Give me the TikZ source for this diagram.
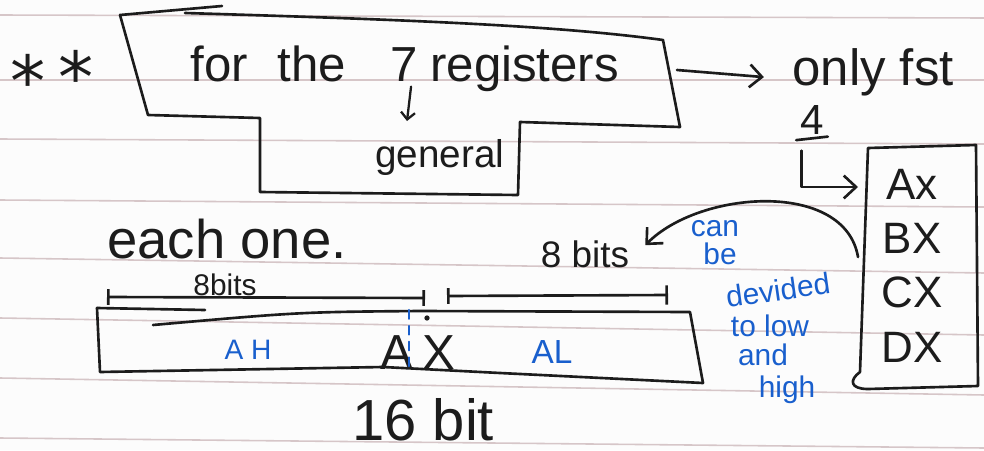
\documentclass[tikz,border=0pt]{standalone}
\usepackage{fontspec}
\setmainfont{Liberation Sans}
\newfontfamily\symfont{DejaVu Sans}
\usetikzlibrary{arrows.meta}
\definecolor{ink}{RGB}{28,28,28}
\definecolor{bluei}{RGB}{25,95,205}
\definecolor{ruling}{RGB}{214,198,200}
\definecolor{paper}{RGB}{252,252,252}

\begin{document}
\begin{tikzpicture}[x=0.02cm, y=-0.02cm, line cap=round, line join=round,
  >={Straight Barb[length=7pt,width=13pt]},
  pen/.style={draw=ink, line width=1.5pt},
  bpen/.style={draw=bluei, line width=1.2pt},
  txt/.style={font=\fontsize{#1}{#1}\selectfont, text=ink, inner sep=0pt},
  btxt/.style={font=\fontsize{#1}{#1}\selectfont, text=bluei, inner sep=0pt},
  rule/.style={draw=ruling, line width=0.9pt}]

% sheet of ruled paper
\fill[paper] (0,0) rectangle (984,450);
\useasboundingbox (0,0) rectangle (984,450);
\foreach \l/\r in {15/18, 80/80, 139/144, 200/207, 258/273, 318/335, 378/395, 438/448}
  \draw[rule] (0,\l) -- (984,\r);

% the two stars
\node[txt=40, font=\symfont\fontsize{40}{40}\selectfont, anchor=base] (s1) at (28,106) {*};
\node[txt=40, font=\symfont\fontsize{40}{40}\selectfont, anchor=base] (s2) at (76,102) {*};

% outline round the heading
\draw[pen] (120,15) -- (222,6);
\draw[pen] (185,13) .. controls (420,20) and (560,26) .. (663,40) -- (680,127) -- (520,122)
  -- (518,195) -- (260,192) -- (260,118) -- (148,115) -- (120,15);
\coordinate (boxR) at (677,70);

\node[txt=28, anchor=base west] (wfor) at (190,81) {for};
\node[txt=28, anchor=base west] (wthe) at (277,81) {the};
\node[txt=28, anchor=base west] (wseven) at (390,81) {7};
\node[txt=28, anchor=base west] (wreg) at (430,81) {registers};
\node[txt=22, anchor=base west] (gen) at (375,167) {general};
\coordinate (gtip) at (407,121);
\draw[pen, line width=1.3pt, -{Straight Barb[length=4pt,width=8pt]}]
  ([xshift=4pt,yshift=-3pt]wseven.south) -- (gtip);

% only the first four
\node[txt=29, anchor=base west] (only) at (792,85) {only fst};
\draw[pen, ->] (boxR) -- ([xshift=-16pt,yshift=-3pt]only.west);
\node[txt=24] (four) at (812,120) {4};
\draw[pen] ([xshift=-9pt,yshift=-3pt]four.south) -- ([xshift=9pt,yshift=-1pt]four.south);

% column of the four registers
\coordinate (rTL) at (868,148);
\coordinate (rTR) at (976,145);
\coordinate (rBR) at (978,386);
\coordinate (rBL) at (868,389);
\draw[pen] (rTL) -- (rTR) -- (rBR) -- (rBL) .. controls (850,389) and (849,380) .. (860,372) -- cycle;
\node[txt=25] (ax) at (912,184) {Ax};
\node[txt=25] (bx) at (912,238) {BX};
\node[txt=25] (cx) at (912,292) {CX};
\node[txt=25] (dx) at (912,347) {DX};
\coordinate (regin) at (858,187);
\draw[pen, ->] ([xshift=-6pt,yshift=-9pt]four.south) |- (regin);

% each register, 16 bits
\node[txt=31, anchor=base west] (each) at (107,258) {each one.};
\node[txt=21] (bitsR) at (585,254) {8 bits};
\node[txt=17] (bitsL) at (225,285) {8bits};
\coordinate (curveStart) at (858,257);
\draw[pen, ->] (curveStart) .. controls (845,180) and (700,190) .. ([xshift=9pt,yshift=5pt]bitsR.east);

\draw[pen, {Bar[width=9pt]}-{Bar[width=9pt]}] (107,297) -- (425,298);
\draw[pen, {Bar[width=9pt]}-{Bar[width=11pt]}] (447,296) -- (668,295);

\draw[pen] (97,308) -- (205,310);
\draw[pen] (153,325) .. controls (300,312) .. (420,311) -- (690,312) -- (703,383)
  -- (500,373) -- (383,367) -- (100,372) -- (97,308);

\node[btxt=16] (ah) at (248,350) {A H};
\node[btxt=19] (al) at (552,352) {AL};
\node[txt=28, anchor=base west] (regA) at (380,369) {A};
\node[txt=28, anchor=base west] (regX) at (422,369) {X};
\draw[bpen, dash pattern=on 5pt off 4pt] (409,310) -- (409,371);
\fill[ink] (427,318) circle (1.5pt);

\node[txt=33, anchor=base west] (sixteen) at (352,440) {16 bit};

% note in blue
\node[btxt=17] (can) at (715,229) {can};
\node[btxt=17] (be) at (720,254) {be};
\node[btxt=17, rotate=8] (devided) at (778,290) {devided};
\node[btxt=17] (tolow) at (770,326) {to low};
\node[btxt=17] (and) at (763,355) {and};
\node[btxt=17] (high) at (787,390) {high};
\end{tikzpicture}
\end{document}
